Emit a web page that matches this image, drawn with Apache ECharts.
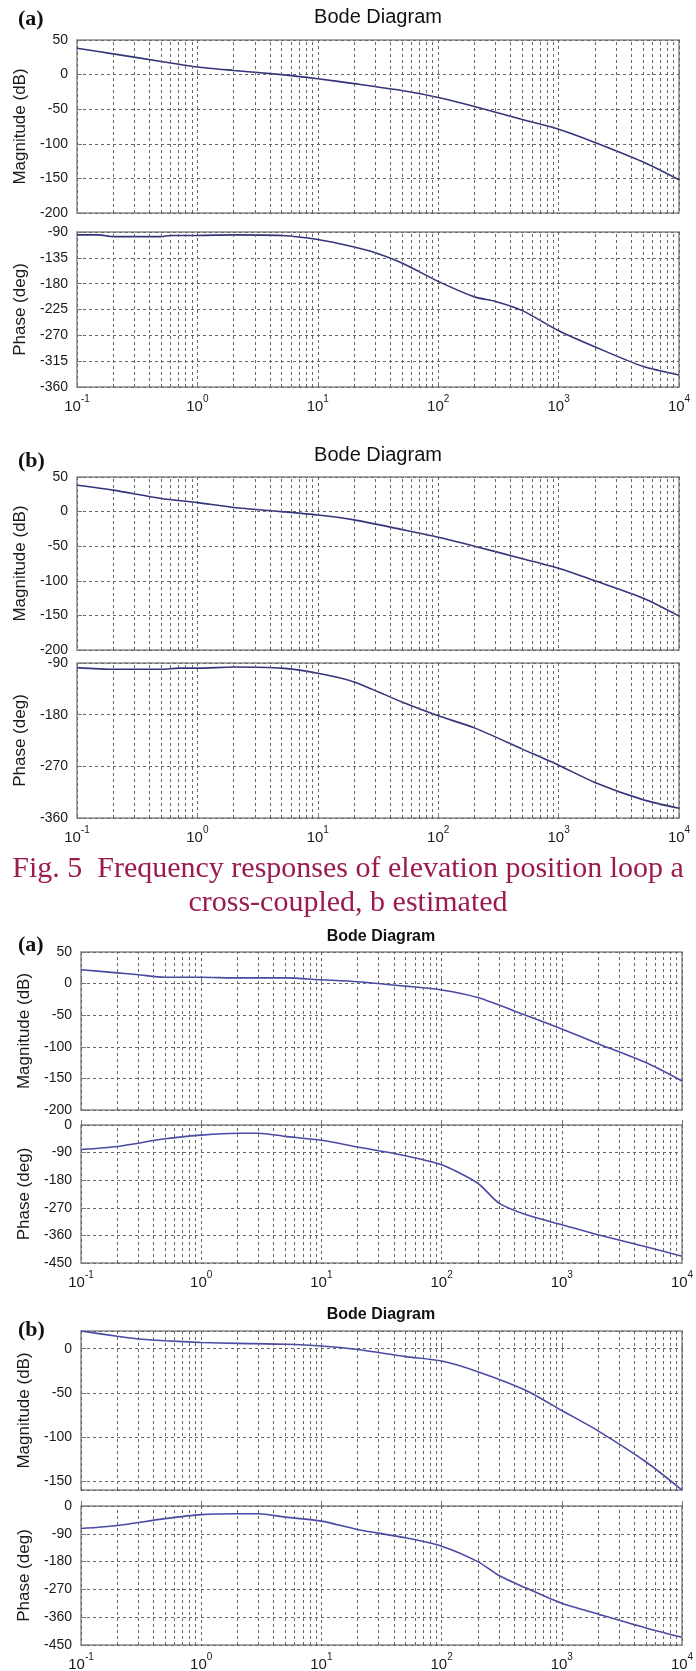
<!DOCTYPE html>
<html>
<head>
<meta charset="utf-8">
<script src="https://cdn.jsdelivr.net/npm/echarts@6/dist/echarts.min.js"></script>
<style>
    html, body { margin: 0; padding: 0; background: #fff; }
    #chart { width: 696px; height: 1671px; }
</style>
</head>
<body>
<div id="chart"></div>
<script>
// values (frequency in rad/s)
var magFreq1 = [0.1, 0.2, 0.5, 1, 2, 5, 10, 20, 50, 100, 200, 500, 1000, 2000, 5000, 10000];
var magElevA = [38, 30, 19, 11, 6, 0, -6, -13, -23, -33, -46, -65, -79, -98, -126, -152];
var magElevB = [38, 31, 19, 13, 6, 0, -5, -12, -26, -37, -50, -68, -82, -100, -125, -151];

var phFreqElevA = [0.1, 0.15, 0.2, 0.5, 0.6, 1, 2, 5, 10, 20, 30, 50, 100, 200, 300, 500, 1000, 2000, 5000, 10000];
var phElevA = [-95, -95, -98, -98, -96, -96, -95, -96, -103, -116, -126, -144, -176, -203, -211, -227, -262, -290, -324, -339];

var phFreqElevB = [0.1, 0.2, 0.5, 0.7, 1, 2, 5, 10, 20, 50, 100, 200, 500, 1000, 2000, 5000, 10000];
var phElevB = [-98, -101, -101, -99, -99, -97, -99, -108, -123, -158, -182, -203, -240, -268, -298, -328, -343];

var magFreq2 = [0.1, 0.2, 0.3, 0.5, 1, 2, 5, 10, 20, 50, 100, 200, 500, 1000, 2000, 5000, 10000];
var magAzA = [22, 17, 14, 10, 10, 9, 9, 6, 3, -4, -10, -22, -50, -72, -95, -125, -154];
var magAzB = [20, 14, 11, 9, 7, 6, 5, 3, -1, -9, -14, -26, -47, -70, -93, -128, -160];

var phFreq2 = [0.1, 0.2, 0.5, 1, 2, 3, 5, 10, 20, 50, 100, 200, 300, 500, 1000, 2000, 5000, 10000];
var phAzA = [-80, -70, -45, -33, -27, -27, -37, -50, -72, -100, -130, -190, -255, -292, -325, -358, -397, -428];
var phAzB = [-73, -63, -41, -28, -25, -25, -36, -49, -76, -103, -130, -180, -225, -265, -315, -350, -395, -425];

// minor grid lines 2..9 x 10^n
var minorTicks = [];
[0.1, 1, 10, 100, 1000].forEach(function (d) {
    for (var k = 2; k <= 9; k++) minorTicks.push(+(k * d).toPrecision(3));
});

var SANS = '"Liberation Sans", Arial, sans-serif';
var SERIF = '"Liberation Serif", "Times New Roman", serif';
var GRID_COLOR = '#666';

function zip(xs, ys) {
    return xs.map(function (x, i) { return [x, ys[i]]; });
}

var panels = [
    {
        tag: '(a)', tagY: 19, title: 'Bode Diagram', titleX: 378, titleY: 17, titleFont: '20px ' + SANS,
        left: 77, width: 602, lineColor: '#34347c', tickSize: 14, nameSize: 17, nameGap: 43,
        mag: { top: 40, height: 173, min: -200, max: 50, interval: 50, data: zip(magFreq1, magElevA) },
        ph: { top: 232, height: 155, min: -360, max: -90, interval: 45, data: zip(phFreqElevA, phElevA) }
    },
    {
        tag: '(b)', tagY: 461, title: 'Bode Diagram', titleX: 378, titleY: 455, titleFont: '20px ' + SANS,
        left: 77, width: 602, lineColor: '#34347c', tickSize: 14, nameSize: 17, nameGap: 43,
        mag: { top: 477, height: 173, min: -200, max: 50, interval: 50, data: zip(magFreq1, magElevB) },
        ph: { top: 663, height: 155, min: -360, max: -90, interval: 90, data: zip(phFreqElevB, phElevB) }
    },
    {
        tag: '(a)', tagY: 945, title: 'Bode Diagram', titleX: 381, titleY: 937, titleFont: 'bold 16px ' + SANS,
        left: 81, width: 601, lineColor: '#4a4aa6', tickSize: 14, nameSize: 17, nameGap: 47,
        mag: { top: 952, height: 158, min: -200, max: 50, interval: 50, data: zip(magFreq2, magAzA) },
        ph: { top: 1125, height: 138, min: -450, max: 0, interval: 90, data: zip(phFreq2, phAzA) }
    },
    {
        tag: '(b)', tagY: 1330, title: 'Bode Diagram', titleX: 381, titleY: 1315, titleFont: 'bold 16px ' + SANS,
        left: 81, width: 601, lineColor: '#4a4aa6', tickSize: 14, nameSize: 17, nameGap: 47,
        mag: { top: 1331, height: 159, min: -160, max: 20, interval: null, data: zip(magFreq2, magAzB) },
        ph: { top: 1506, height: 139, min: -450, max: 0, interval: 90, data: zip(phFreq2, phAzB) }
    }
];

function text(x, y, str, font, fill, align) {
    return {
        type: 'text', x: x, y: y, silent: true,
        style: {
            text: str, font: font, fill: fill,
            align: align, verticalAlign: 'middle',
            textAlign: align, textVerticalAlign: 'middle'
        }
    };
}

var option = {
    animation: false,
    backgroundColor: '#fff',
    grid: [], xAxis: [], yAxis: [], series: [], graphic: []
};

panels.forEach(function (p) {
    ['mag', 'ph'].forEach(function (kind) {
        var part = p[kind];
        var idx = option.grid.length;
        var isPhase = kind === 'ph';
        option.grid.push({
            left: p.left, top: part.top, width: p.width, height: part.height,
            show: true, borderColor: '#8a8a8a', borderWidth: 1.5,
            outerBoundsMode: 'none', containLabel: false
        });
        option.xAxis.push({
            type: 'log', logBase: 10, min: 0.1, max: 10000, gridIndex: idx,
            axisLine: { show: false },
            axisTick: { show: true, inside: true, length: 5, lineStyle: { color: '#777' } },
            splitLine: { show: true, lineStyle: { color: GRID_COLOR, type: [3, 3], width: 1 } },
            axisLabel: isPhase ? {
                show: true, margin: 7,
                formatter: function (v) {
                    return '{b|10}{e|' + Math.round(Math.log10(v)) + '}';
                },
                rich: {
                    b: { fontSize: 15, fontFamily: SANS, color: '#1a1a1a', lineHeight: 20, verticalAlign: 'bottom' },
                    e: { fontSize: 10, fontFamily: SANS, color: '#1a1a1a', lineHeight: 11, verticalAlign: 'top' }
                }
            } : { show: false }
        });
        var yAxis = {
            type: 'value', gridIndex: idx, min: part.min, max: part.max,
            axisLine: { show: false },
            axisTick: { show: true, inside: true, length: 5, lineStyle: { color: '#777' } },
            splitLine: { show: true, lineStyle: { color: GRID_COLOR, type: [3, 3], width: 1 } },
            axisLabel: {
                fontSize: p.tickSize, fontFamily: SANS, color: '#1a1a1a', margin: 9,
                showMinLabel: part.interval !== null, showMaxLabel: part.interval !== null,
                formatter: function (v) { return (part.interval === null && v % 50 !== 0) ? '' : String(v); }
            },
            name: isPhase ? 'Phase (deg)' : 'Magnitude (dB)',
            nameLocation: 'middle', nameRotate: 90, nameGap: p.nameGap,
            nameTextStyle: { fontSize: p.nameSize, fontFamily: SANS, color: '#1a1a1a' }
        };
        if (part.interval !== null) {
            yAxis.interval = part.interval;
        } else {
            yAxis.splitNumber = 4;
        }
        option.yAxis.push(yAxis);
        option.series.push({
            type: 'line', xAxisIndex: idx, yAxisIndex: idx,
            data: part.data, showSymbol: false, smooth: 0.25,
            lineStyle: { color: p.lineColor, width: 1.6 },
            silent: true,
            markLine: {
                silent: true, symbol: ['none', 'none'], label: { show: false },
                lineStyle: { color: GRID_COLOR, type: [3, 3], width: 1 },
                data: minorTicks.map(function (v) { return { xAxis: v }; })
            }
        });
    });
    option.graphic.push(text(p.titleX, p.titleY, p.title, p.titleFont, '#111', 'center'));
    option.graphic.push(text(18, p.tagY, p.tag, 'bold 22px ' + SERIF, '#111', 'left'));
});

option.graphic.push(text(348, 869, 'Fig. 5  Frequency responses of elevation position loop a', '30px ' + SERIF, '#9b1b4f', 'center'));
option.graphic.push(text(348, 903, 'cross-coupled, b estimated', '30px ' + SERIF, '#9b1b4f', 'center'));

var myChart = echarts.init(document.getElementById('chart'), null, { renderer: 'canvas' });
myChart.setOption(option);
</script>
</body>
</html>
